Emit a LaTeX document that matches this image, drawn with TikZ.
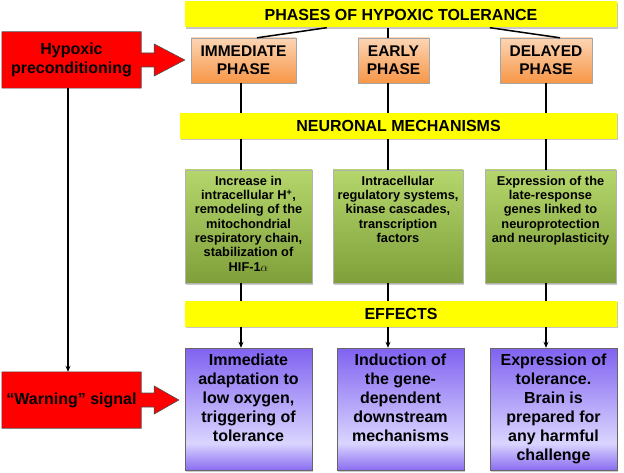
\documentclass[tikz,border=0pt]{standalone}
\usepackage{fontspec}
\setmainfont{Liberation Sans}
\usepackage{tikz}
\usetikzlibrary{arrows.meta,%
                calc,%
                shadows,%
                backgrounds}

\definecolor{barYellow}{HTML}{FFFF00}
\definecolor{hypRed}{HTML}{FF0000}
\definecolor{orTop}{HTML}{FCD5B5}
\definecolor{orBot}{HTML}{F79646}
\definecolor{grTop}{HTML}{B5D66C}
\definecolor{grBot}{HTML}{7F9F3A}
\definecolor{puTop}{HTML}{8062F0}
\definecolor{puMid}{HTML}{DAD5FF}
\definecolor{puBot}{HTML}{8A6CF0}
\pgfdeclareverticalshading{effshade}{100bp}{color(0bp)=(puBot); color(25bp)=(puBot);
  color(36bp)=(puMid); color(75bp)=(puTop); color(100bp)=(puTop)}

\begin{document}
\begin{tikzpicture}
  [x=1pt,y=-1pt,
   every node/.style={inner sep=0pt,font=\bfseries},
   bar/.style={fill=barYellow,minimum height=26pt,
     font=\bfseries\fontsize{16}{19}\selectfont,
     drop shadow={shadow xshift=1pt,shadow yshift=-1.2pt,opacity=.45}},
   phasebox/.style={draw=gray!70,top color=orTop,bottom color=orBot,
     minimum height=45pt,align=center,
     font=\bfseries\fontsize{15.5}{18}\selectfont,
     drop shadow={shadow xshift=1pt,shadow yshift=-1.2pt,opacity=.4}},
   mechbox/.style={draw=gray!60,top color=grTop,bottom color=grBot,
     minimum height=113pt,
     drop shadow={shadow xshift=1.2pt,shadow yshift=-1.5pt,opacity=.4}},
   effbox/.style={draw=gray!80!black,shading=effshade,minimum height=122pt,
     drop shadow={shadow xshift=1.2pt,shadow yshift=-1.5pt,opacity=.4}},
   redbox/.style={minimum width=139pt,minimum height=56pt,align=center,
     font=\bfseries\fontsize{16}{19}\selectfont},
   mechtxt/.style={align=center,font=\bfseries\fontsize{12.8}{14.3}\selectfont},
   efftxt/.style={align=center,font=\bfseries\fontsize{16}{19}\selectfont},
   link/.style={line width=1.5pt},
   arrlink/.style={line width=1.5pt,-{Stealth[length=6pt,width=5pt]}}]

  \useasboundingbox (0,0) rectangle (624,473);

  % columns of the connectors
  \coordinate (k1) at (241,0);
  \coordinate (k2) at (388,0);
  \coordinate (k3) at (546,0);

  % bars
  \node[bar,minimum width=432pt] (title) at (401,14.5) {PHASES OF HYPOXIC TOLERANCE};
  \node[bar,minimum width=437pt] (neuro) at (398.5,126) {NEURONAL MECHANISMS};
  \node[bar,minimum width=432pt] (eff) at (401,314) {EFFECTS};

  % phases
  \node[phasebox,minimum width=105pt] (ph1) at (243.5,60.5) {IMMEDIATE\\PHASE};
  \node[phasebox,minimum width=71pt] (ph2) at (393.5,60.5) {EARLY\\PHASE};
  \node[phasebox,minimum width=92pt] (ph3) at (546,60.5) {DELAYED\\PHASE};

  % neuronal mechanisms
  \node[mechbox,minimum width=127pt] (gr1) at (248.5,226.5) {};
  \node[mechbox,minimum width=130pt] (gr2) at (398,226.5) {};
  \node[mechbox,minimum width=131pt] (gr3) at (550.5,226.5) {};
  \node[mechtxt,anchor=north] (gt1) at ($(gr1.north)+(0,6)$)
    {Increase in\\intracellular H\textsuperscript{+},\\remodeling of the\\mitochondrial\\respiratory chain,\\stabilization of\\HIF-1$\alpha$};
  \node[mechtxt,anchor=north] (gt2) at ($(gr2.north)+(0,6)$)
    {Intracellular\\regulatory systems,\\kinase cascades,\\transcription\\factors};
  \node[mechtxt,anchor=north] (gt3) at ($(gr3.north)+(0,6)$)
    {Expression of the\\late-response\\genes linked to\\neuroprotection\\and neuroplasticity};

  % effects
  \node[effbox,minimum width=127pt] (pu1) at (248.5,409) {};
  \node[effbox,minimum width=127pt] (pu2) at (400.5,409) {};
  \node[effbox,minimum width=127pt] (pu3) at (553.5,409) {};
  \node[efftxt,anchor=north] (pt1) at ($(pu1.north)+(0,6)$)
    {Immediate\\adaptation to\\low oxygen,\\triggering of\\tolerance};
  \node[efftxt,anchor=north] (pt2) at ($(pu2.north)+(0,6)$)
    {Induction of\\the gene-\\dependent\\downstream\\mechanisms};
  \node[efftxt,anchor=north] (pt3) at ($(pu3.north)+(0,6)$)
    {Expression of\\tolerance.\\Brain is\\prepared for\\any harmful\\challenge};

  % red signals
  \node[redbox] (hyp) at (71.5,60) {Hypoxic\\preconditioning};
  \node[redbox] (warn) at (71.5,400) {“Warning” signal};
  \begin{scope}[on background layer]
    \foreach \b/\t/\h in {hyp/ph1/16,warn/pu1/14}
      \filldraw[fill=hypRed,draw=black!70,line width=.6pt]
        (\b.north west) -- (\b.north east) -- ($(\b.east)+(0,-7)$)
        -- ($(\b.east)+(13,-7)$) -- ($(\b.east)+(13,-\h)$)
        -- ($(\b.east -| \t.west)+(-6,0)$)
        -- ($(\b.east)+(13,\h)$) -- ($(\b.east)+(13,7)$)
        -- ($(\b.east)+(0,7)$) -- (\b.south east) -- (\b.south west) -- cycle;
  \end{scope}
  \draw[arrlink] (hyp.south -| 68,0) -- (warn.north -| 68,0);

  % connectors
  \draw[link] ($(ph1.north)+(13.5,0)$) -- ($(title.south west)+(142,0)$);
  \draw[link] (ph2.north -| k2) -- (title.south -| k2);
  \draw[link] ($(ph3.north)+(14,0)$) -- ($(title.south west)+(305,0)$);
  \foreach \i in {1,2,3} {
    \draw[link] (ph\i.south -| k\i) -- (neuro.north -| k\i);
    \draw[link] (neuro.south -| k\i) -- (gr\i.north -| k\i);
    \draw[link] (gr\i.south -| k\i) -- (eff.north -| k\i);
    \draw[arrlink] (eff.south -| k\i) -- (pu\i.north -| k\i);
  }
\end{tikzpicture}
\end{document}
